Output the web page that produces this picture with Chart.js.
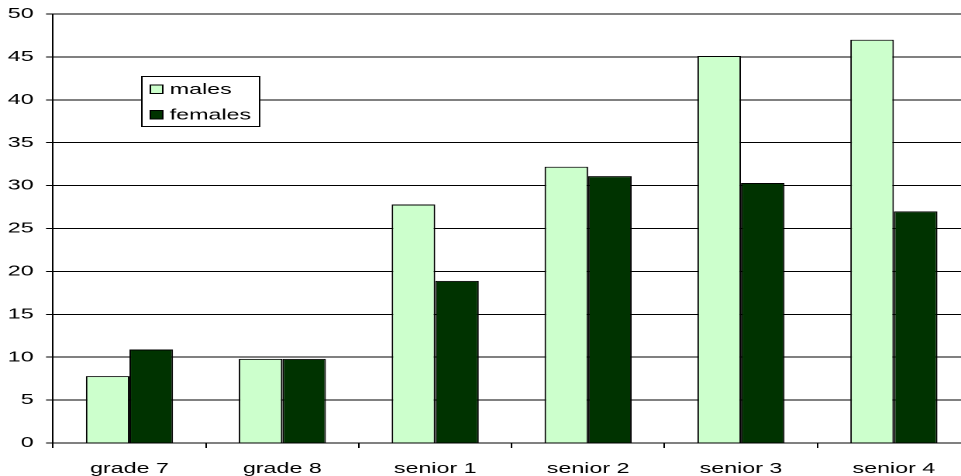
<!DOCTYPE html>
<html>
<head>
<meta charset="utf-8">
<script src="https://cdn.jsdelivr.net/npm/chart.js@4"></script>
<style>
  html, body { margin: 0; padding: 0; background: #fff; overflow: hidden; }
  /* the original picture is stretched sideways, text included */
  #wrap { width: 626px; height: 476px; transform: scaleX(1.55); transform-origin: 0 0; }
</style>
</head>
<body>
<div id="wrap"><canvas id="chart"></canvas></div>
<script>
const categories = ['grade 7', 'grade 8', 'senior 1', 'senior 2', 'senior 3', 'senior 4'];
const males = [7.8, 9.8, 27.8, 32.2, 45.1, 47.0];
const females = [10.9, 9.8, 18.9, 31.1, 30.3, 27.0];

const FONT = { family: "'Liberation Sans', Arial, sans-serif", size: 15 };

// legend drawn as a framed box inside the plot, like the original
const boxLegend = {
  id: 'boxLegend',
  afterDraw(chart) {
    const ctx = chart.ctx;
    const x = 91, y = 76, w = 76, h = 50;
    ctx.save();
    ctx.fillStyle = '#fff';
    ctx.fillRect(x, y, w, h);
    ctx.strokeStyle = '#000';
    ctx.lineWidth = 1;
    ctx.strokeRect(x + 0.5, y + 0.5, w, h);
    ctx.font = FONT.size + 'px ' + FONT.family;
    ctx.textBaseline = 'middle';
    chart.data.datasets.forEach((ds, i) => {
      const cy = y + 13 + i * 25.5;
      ctx.fillStyle = ds.backgroundColor;
      ctx.fillRect(x + 6, cy - 4, 8, 8.5);
      ctx.strokeRect(x + 6, cy - 4, 8, 8.5);
      ctx.fillStyle = '#000';
      ctx.fillText(ds.label, x + 18.5, cy + 1);
    });
    ctx.restore();
  }
};

new Chart(document.getElementById('chart'), {
  type: 'bar',
  data: {
    labels: categories,
    datasets: [
      { label: 'males', data: males, backgroundColor: '#CCFFCC', borderColor: '#000', borderWidth: 1 },
      { label: 'females', data: females, backgroundColor: '#003300', borderColor: '#000', borderWidth: 1 }
    ]
  },
  options: {
    responsive: true,
    maintainAspectRatio: false,
    animation: false,
    devicePixelRatio: 2,
    categoryPercentage: 0.57,
    barPercentage: 1,
    layout: { padding: { top: 14, right: 0, left: 0, bottom: 0 } },
    plugins: { legend: { display: false }, tooltip: { enabled: false } },
    scales: {
      x: {
        grid: { drawOnChartArea: false, drawTicks: true, tickLength: 5, color: '#000' },
        border: { color: '#000' },
        ticks: { color: '#000', font: FONT, padding: 12, maxRotation: 0, autoSkip: false },
        afterFit(scale) { scale.height = 33; }
      },
      y: {
        min: 0,
        max: 50,
        grid: { color: '#000', tickLength: 4.5 },
        border: { color: '#000' },
        ticks: { stepSize: 5, color: '#000', font: FONT, padding: 8 },
        afterFit(scale) {
          scale.width = 34.2;
          scale.paddingTop = 0;
          scale.paddingBottom = 0;
        }
      }
    }
  },
  plugins: [boxLegend]
});
</script>
</body>
</html>
